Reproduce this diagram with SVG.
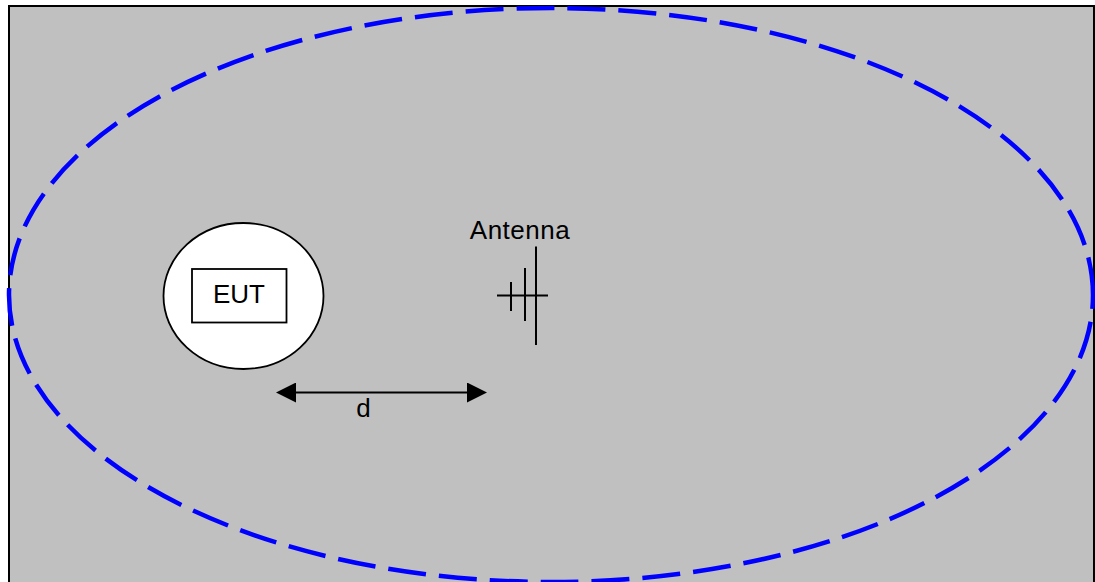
<svg xmlns="http://www.w3.org/2000/svg" width="1095" height="582" viewBox="0 0 1095 582">
<style>
text{font-family:"Liberation Sans",Arial,sans-serif;font-size:26px;fill:#000}
.s{stroke:#000;stroke-width:2;fill:none}
</style>
<defs>
<marker id="a" markerUnits="userSpaceOnUse" markerWidth="20" markerHeight="20" refX="6" refY="10" orient="auto-start-reverse"><path d="M0 0L20 10L0 20Z" fill="#000"/></marker>
</defs>
<rect width="1095" height="582" fill="#fff"/>
<g id="field">
<path d="M9 600V6H1094V600" fill="#c0c0c0" stroke="#000" stroke-width="2"/>
</g>
<g id="boundary">
<path d="M1093 295A542 287 0 0 0 9 295A542 287 0 0 0 1093 295" fill="none" stroke="#00f" stroke-width="4.500" stroke-dasharray="38 13"/>
</g>
<g id="eut">
<ellipse cx="243.500" cy="296" rx="80" ry="73" fill="#fff" stroke="#000" stroke-width="1.800"/>
<rect x="192" y="269" width="94.500" height="53.500" fill="#fff" stroke="#000" stroke-width="1.800"/>
<text x="239" y="303" text-anchor="middle">EUT</text>
</g>
<g id="antenna">
<text x="520" y="239" text-anchor="middle" letter-spacing="0.5">Antenna</text>
<path class="s" d="M497 295.500H548M511 282V311M525 268V321M536 246.500V345"/>
</g>
<g id="connectors">
<line class="s" x1="290" y1="392.500" x2="473" y2="392.500" marker-start="url(#a)" marker-end="url(#a)"/>
</g>
<g id="distance">
<text x="363.500" y="417" text-anchor="middle">d</text>
</g>
</svg>
